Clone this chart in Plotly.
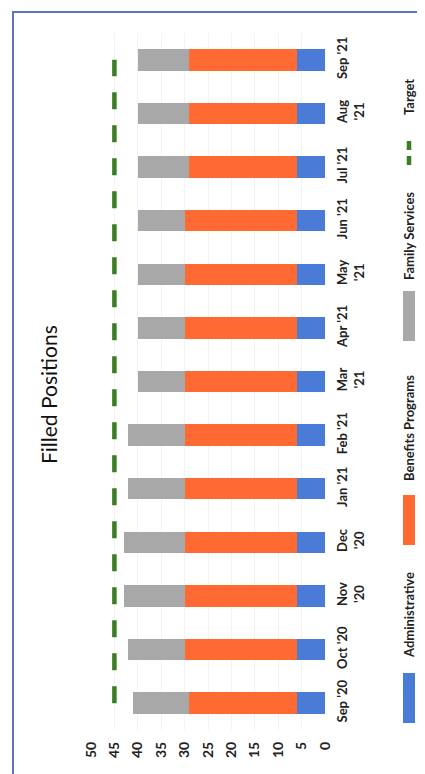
import plotly.graph_objects as go

categories = ["Sep '20", "Oct '20", "Nov '20", "Dec '20", "Jan '21", "Feb '21", "Mar '21",
              "Apr '21", "May '21", "Jun '21", "Jul '21", "Aug '21", "Sep '21"]
category_labels = ["Sep '20", "Oct '20", "Nov<br>'20", "Dec<br>'20", "Jan '21", "Feb '21", "Mar<br>'21",
                   "Apr '21", "May<br>'21", "Jun '21", "Jul '21", "Aug<br>'21", "Sep '21"]
administrative = [6, 6, 6, 6, 6, 6, 6, 6, 6, 6, 6, 6, 6]
benefits_programs = [23, 24, 24, 24, 24, 24, 24, 24, 24, 24, 23, 23, 23]
family_services = [12, 12, 13, 13, 12, 12, 10, 10, 10, 10, 11, 11, 11]
target = [45] * 13
value_ticks = [0, 5, 10, 15, 20, 25, 30, 35, 40, 45, 50]

W, H = 425, 774
L, R, T, B = 83, 108, 25, 52
PW, PH = W - L - R, H - T - B

def px(x):
    return (x - L) / PW

def py(y):
    return (H - B - y) / PH

BLUE, ORANGE, GRAY, GREEN = "#4a7bd6", "#ff6a33", "#a8a8a8", "#3b7d23"
FONT = "Lato"

fig = go.Figure()
for name, vals, col in [("Administrative", administrative, BLUE),
                        ("Benefits Programs", benefits_programs, ORANGE),
                        ("Family Services", family_services, GRAY)]:
    fig.add_trace(go.Bar(y=categories, x=vals, name=name, orientation="h",
                         marker=dict(color=col, line=dict(width=0))))
fig.add_trace(go.Scatter(y=categories, x=target, name="Target", mode="lines",
                         line=dict(color=GREEN, width=4.5, dash="17px,16px")))

fig.update_layout(
    width=W, height=H, barmode="stack", bargap=0.6,
    margin=dict(l=L, r=R, t=T, b=B),
    plot_bgcolor="white", paper_bgcolor="white",
    showlegend=False,
    font=dict(family=FONT, color="#222222"),
    xaxis=dict(range=[50, 0], tickvals=value_ticks, ticktext=[str(v) for v in value_ticks],
               tickangle=-90, tickfont=dict(size=14, weight="bold", color="#222"),
               showgrid=True, gridcolor="#f3f3f3", zeroline=False, showline=False,
               ticks="", ticklabelstandoff=8),
    yaxis=dict(side="right", categoryorder="array", categoryarray=categories,
               tickvals=categories, ticktext=category_labels, tickangle=-90,
               tickfont=dict(size=13, weight="bold", color="#222"),
               showgrid=False, zeroline=False, showline=False, ticks="",
               ticklabelstandoff=8, range=[-0.5, 12.5]),
)

annotations = [dict(text="Filled Positions", x=px(41), y=py(387), xref="paper", yref="paper",
                    textangle=-90, showarrow=False, font=dict(size=21, family=FONT, color="#111"),
                    xanchor="center", yanchor="middle")]
shapes = []
legend_items = [("Administrative", BLUE, 690, 607, "rect"),
                ("Benefits Programs", ORANGE, 512, 420, "rect"),
                ("Family Services", GRAY, 308, 228, "rect"),
                ("Target", GREEN, 145, 89, "line")]
lx = 401
for name, col, my, ty, kind in legend_items:
    if kind == "rect":
        shapes.append(dict(type="rect", xref="paper", yref="paper",
                           x0=px(lx - 6), x1=px(lx + 6), y0=py(my - 25), y1=py(my + 25),
                           fillcolor=col, line=dict(width=0)))
    else:
        shapes.append(dict(type="line", xref="paper", yref="paper",
                           x0=px(lx), x1=px(lx), y0=py(my - 12), y1=py(my + 12),
                           line=dict(color=col, width=4.5, dash="9px,6px")))
    annotations.append(dict(text=name, x=px(lx), y=py(ty), xref="paper", yref="paper",
                            textangle=-90, showarrow=False,
                            font=dict(size=13, family=FONT, weight="bold", color="#222"),
                            xanchor="center", yanchor="middle"))
shapes.append(dict(type="rect", xref="paper", yref="paper",
                   x0=px(5), x1=px(422), y0=py(768), y1=py(4),
                   line=dict(color="#5a78b8", width=2), fillcolor="rgba(0,0,0,0)", layer="below"))
fig.update_layout(annotations=annotations, shapes=shapes)

fig.write_html("out.html")
